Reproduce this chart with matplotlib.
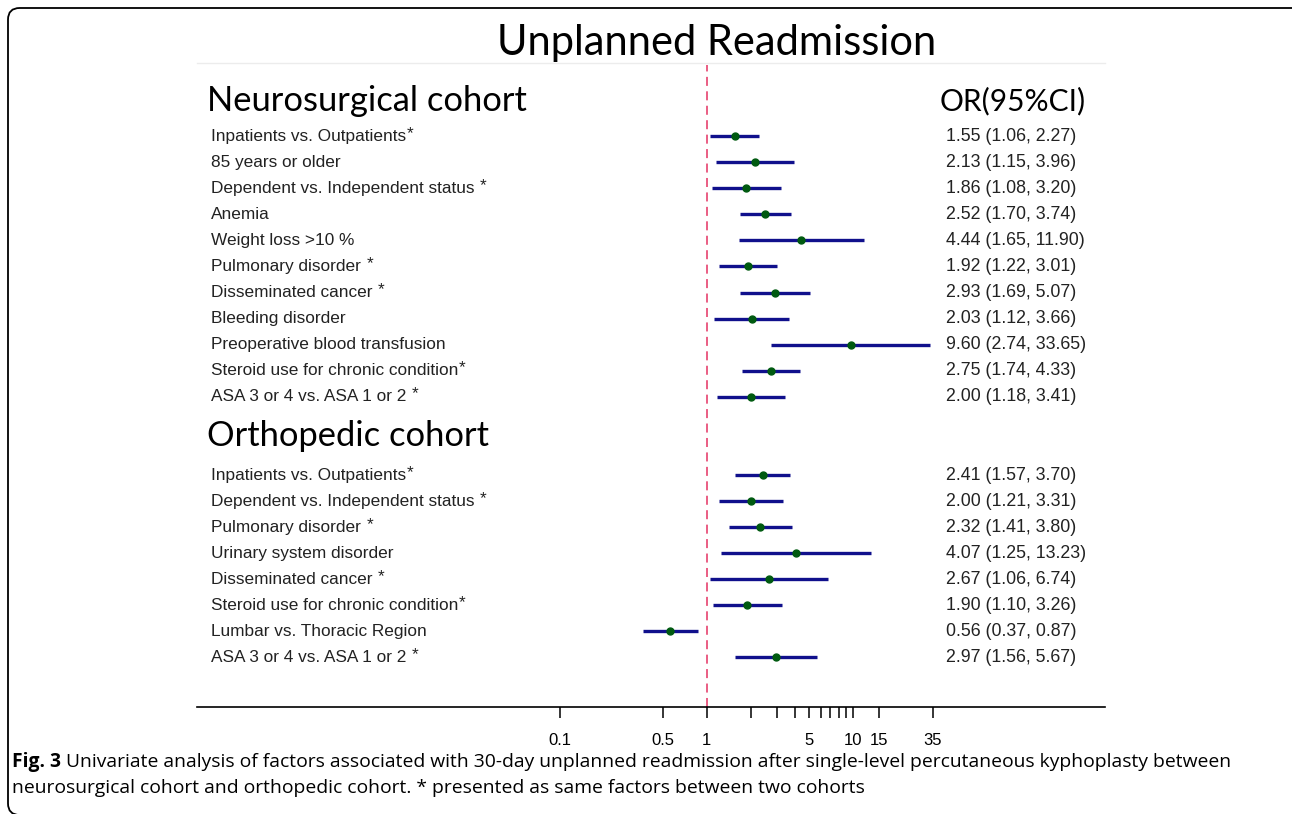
import matplotlib

matplotlib.use("Agg")
import matplotlib.pyplot as plt
from matplotlib.patches import FancyBboxPatch
import matplotlib.transforms as mtransforms

# ---- data ----
NEURO_LABELS = [
    "Inpatients vs. Outpatients",
    "85 years or older",
    "Dependent vs. Independent status",
    "Anemia",
    "Weight loss >10 %",
    "Pulmonary disorder",
    "Disseminated cancer",
    "Bleeding disorder",
    "Preoperative blood transfusion",
    "Steroid use for chronic condition",
    "ASA 3 or 4 vs. ASA 1 or 2",
]
NEURO_STAR = ["*", "", " *", "", "", " *", " *", "", "", "*", " *"]
NEURO_OR = [1.55, 2.13, 1.86, 2.52, 4.44, 1.92, 2.93, 2.03, 9.60, 2.75, 2.00]
NEURO_LO = [1.06, 1.15, 1.08, 1.70, 1.65, 1.22, 1.69, 1.12, 2.74, 1.74, 1.18]
NEURO_HI = [2.27, 3.96, 3.20, 3.74, 11.90, 3.01, 5.07, 3.66, 33.65, 4.33, 3.41]

ORTHO_LABELS = [
    "Inpatients vs. Outpatients",
    "Dependent vs. Independent status",
    "Pulmonary disorder",
    "Urinary system disorder",
    "Disseminated cancer",
    "Steroid use for chronic condition",
    "Lumbar vs. Thoracic Region",
    "ASA 3 or 4 vs. ASA 1 or 2",
]
ORTHO_STAR = ["*", " *", " *", "", " *", "*", "", " *"]
ORTHO_OR = [2.41, 2.00, 2.32, 4.07, 2.67, 1.90, 0.56, 2.97]
ORTHO_LO = [1.57, 1.21, 1.41, 1.25, 1.06, 1.10, 0.37, 1.56]
ORTHO_HI = [3.70, 3.31, 3.80, 13.23, 6.74, 3.26, 0.87, 5.67]

TICKS = [0.1, 0.5, 1, 2, 3, 4, 5, 6, 7, 8, 9, 10, 15, 35]
TICK_LABELS = ["0.1", "0.5", "1", "", "", "", "5", "", "", "", "", "10", "15", "35"]

CAPTION_1 = ("Univariate analysis of factors associated with 30-day unplanned "
             "readmission after single-level percutaneous kyphoplasty between")
CAPTION_2 = ("neurosurgical cohort and orthopedic cohort. * presented as same "
             "factors between two cohorts")

LINE_COLOR = "#10108c"
DOT_COLOR = "#005a10"
REF_COLOR = "#e8507a"
TEXT_COLOR = "#222222"
HEAD_FONT = ["Lato", "DejaVu Sans"]
BODY_FONT = ["Liberation Sans", "DejaVu Sans"]

W, H = 1292, 814
fig = plt.figure(figsize=(W / 100, H / 100), dpi=100)

# rounded frame around the panel (right and bottom run off the image)
frame = FancyBboxPatch(
    (8 / W, -1 / H), 1310 / W, 807 / H,
    boxstyle="round,pad=0,rounding_size=0.009",
    transform=fig.transFigure, fill=False, edgecolor="black", linewidth=1.3,
    mutation_aspect=W / H,
)
fig.patches.append(frame)

ax_left, ax_right = 197, 1105
ax_top, ax_bottom = 65, 707
ax_w = ax_right - ax_left
ax = fig.add_axes([ax_left / W, 1 - ax_bottom / H,
                   ax_w / W, (ax_bottom - ax_top) / H])

ax.set_xscale("log")
ax.set_xlim(10 ** -3.48, 10 ** 2.72)
# rows: neurosurgical 0..10, orthopedic 13..20
ax.set_ylim(21.9, -2.73)

for spine in ("top", "left", "right"):
    ax.spines[spine].set_visible(False)
ax.spines["bottom"].set_linewidth(1.2)
ax.set_yticks([])
ax.set_xticks(TICKS)
ax.set_xticklabels(TICK_LABELS, fontfamily=BODY_FONT, fontsize=12)
ax.xaxis.set_minor_locator(matplotlib.ticker.NullLocator())
ax.tick_params(axis="x", length=8, width=1.1, pad=11, colors="black")

ax.axvline(1, color=REF_COLOR, linestyle=(0, (5, 3)), linewidth=1.3, zorder=1)

lab_tr = mtransforms.blended_transform_factory(ax.transAxes, ax.transData)
or_x = (946 - ax_left) / ax_w
lab_x = (211 - ax_left) / ax_w


def draw_block(labels, stars, ors, los, his, start):
    rows = [start + i for i in range(len(labels))]
    ax.hlines(rows, los, his, color=LINE_COLOR, linewidth=2.4, zorder=2)
    ax.plot(ors, rows, "o", color=DOT_COLOR, markersize=5, zorder=3)
    for row, label, star, o, lo, hi in zip(rows, labels, stars, ors, los, his):
        t = ax.text(lab_x, row, label, transform=lab_tr, ha="left", va="center",
                    fontsize=12.4, fontfamily=BODY_FONT, color=TEXT_COLOR)
        if star:
            gap = 4 if star.startswith(" ") else 0.5
            ax.annotate("*", xy=(1, 1), xycoords=t, xytext=(gap, 2),
                        textcoords="offset points", ha="left", va="top",
                        fontsize=12.4, fontfamily=BODY_FONT, color=TEXT_COLOR)
        ax.text(or_x, row, f"{o:.2f} ({lo:.2f}, {hi:.2f})", transform=lab_tr,
                ha="left", va="center", fontsize=12.8, fontfamily=BODY_FONT,
                color=TEXT_COLOR)


draw_block(NEURO_LABELS, NEURO_STAR, NEURO_OR, NEURO_LO, NEURO_HI, 0)
draw_block(ORTHO_LABELS, ORTHO_STAR, ORTHO_OR, ORTHO_LO, ORTHO_HI, 13)

# headings
head_x = (207 - ax_left) / ax_w
ax.text(head_x, -1.35, "Neurosurgical cohort", transform=lab_tr,
        ha="left", va="center", fontsize=24.8, fontfamily=HEAD_FONT)
ax.text(head_x, 11.5, "Orthopedic cohort", transform=lab_tr,
        ha="left", va="center", fontsize=24.8, fontfamily=HEAD_FONT)
ax.text((1086 - ax_left) / ax_w, -1.35, "OR(95%CI)", transform=lab_tr,
        ha="right", va="center", fontsize=21.5, fontfamily=HEAD_FONT)

# faint rule under the title
fig.add_artist(plt.Line2D([ax_left / W, ax_right / W], [1 - 63 / H, 1 - 63 / H],
                          color="#ececec", linewidth=1))

fig.text(717 / W, 1 - 43 / H, "Unplanned Readmission", ha="center", va="center",
         fontsize=30, fontfamily=HEAD_FONT)

# caption
cap = fig.text(12 / W, 1 - 762 / H, "Fig. 3", ha="left", va="center",
               fontsize=13.9, fontweight="bold", fontfamily="Open Sans")
ax.annotate(" " + CAPTION_1, xy=(1, 0.5), xycoords=cap, ha="left", va="center",
            fontsize=13.9, fontfamily="Open Sans", annotation_clip=False)
fig.text(12 / W, 1 - 788 / H, CAPTION_2, ha="left", va="center",
         fontsize=13.9, fontfamily="Open Sans")

fig.savefig("out.png", dpi=100)
